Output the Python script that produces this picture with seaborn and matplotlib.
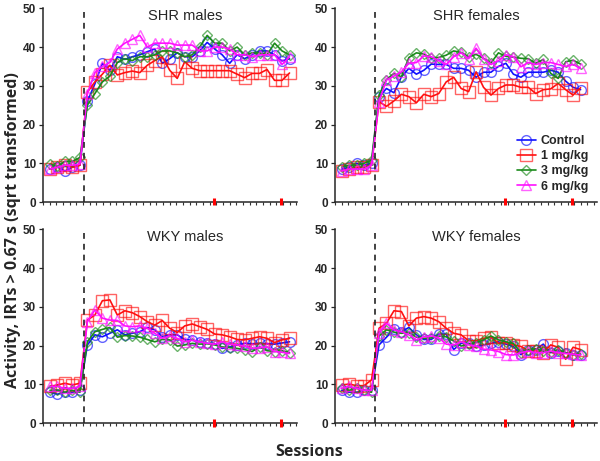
import numpy as np
import pandas as pd
import matplotlib
matplotlib.use("Agg")
import matplotlib.pyplot as plt
import seaborn as sns

sns.set_style("ticks")
plt.rcParams['font.family'] = ['Liberation Sans', 'DejaVu Sans']

sessions = list(range(1, 34))
groups = ["Control", "1 mg/kg", "3 mg/kg", "6 mg/kg"]
panel_titles = ["SHR males", "SHR females", "WKY males", "WKY females"]

shr_m_control = [8.5, 9.0, 8.0, 9.0, 9.5, 26.0, 30.5, 35.8, 34.0, 37.5, 36.8, 37.5, 38.0, 38.8, 39.5, 35.8, 37.0, 38.5, 37.5, 37.5, 39.0, 41.2, 39.5, 38.0, 35.8, 38.0, 37.0, 38.0, 39.0, 39.0, 38.0, 36.4, 37.0]
shr_m_1mg = [8.5, 9.0, 9.5, 9.0, 9.5, 28.4, 31.0, 33.0, 35.3, 32.8, 33.4, 33.8, 33.4, 35.3, 36.5, 37.5, 34.0, 31.9, 36.2, 34.5, 33.9, 33.9, 33.9, 33.9, 33.9, 33.0, 32.1, 33.2, 33.2, 34.2, 31.4, 31.4, 33.3]
shr_m_3mg = [9.8, 9.2, 10.5, 10.5, 11.5, 25.0, 28.0, 31.0, 32.5, 36.0, 37.0, 36.5, 37.5, 37.5, 38.0, 39.0, 39.0, 38.5, 37.5, 38.0, 40.0, 43.0, 41.0, 41.0, 39.0, 40.0, 38.0, 38.5, 38.5, 38.0, 41.0, 39.0, 38.0]
shr_m_6mg = [8.5, 9.0, 9.5, 9.5, 9.8, 28.0, 33.4, 35.0, 36.0, 39.5, 41.0, 42.0, 43.0, 40.0, 41.0, 41.0, 41.0, 40.5, 40.5, 40.5, 39.0, 39.0, 40.0, 40.0, 39.5, 38.0, 38.0, 37.5, 38.0, 38.0, 38.0, 35.5, 37.5]

shr_f_control = [8.5, 9.0, 10.0, 9.5, 10.0, 27.2, 29.3, 28.2, 32.3, 34.5, 33.0, 34.0, 35.6, 35.5, 35.5, 34.5, 34.5, 34.0, 32.2, 33.5, 33.5, 35.0, 35.8, 33.0, 32.2, 33.5, 33.5, 33.5, 34.0, 33.5, 31.2, 29.6, 29.0]
shr_f_1mg = [8.0, 8.5, 9.0, 9.0, 9.5, 25.9, 24.7, 26.1, 27.8, 27.2, 25.6, 27.8, 27.2, 28.0, 31.0, 32.2, 29.3, 28.5, 33.6, 29.6, 27.6, 29.3, 30.2, 30.2, 29.6, 29.6, 28.0, 29.0, 29.2, 30.6, 29.0, 27.6, 29.5]
shr_f_3mg = [9.0, 9.5, 9.5, 10.0, 10.8, 27.6, 31.6, 33.2, 32.3, 37.3, 38.5, 38.2, 37.1, 37.3, 37.9, 39.0, 38.6, 37.5, 38.1, 37.1, 35.9, 38.5, 37.6, 37.4, 37.1, 37.0, 35.8, 36.8, 33.2, 31.9, 36.2, 36.6, 35.6]
shr_f_6mg = [8.0, 8.5, 8.5, 8.5, 9.5, 25.9, 31.5, 32.5, 33.6, 35.8, 36.0, 37.7, 37.5, 36.5, 35.5, 37.5, 38.5, 37.0, 39.7, 37.0, 35.5, 36.5, 38.0, 37.5, 34.9, 36.0, 35.5, 36.0, 36.0, 35.5, 35.0, 35.5, 34.5]

wky_m_control = [8.0, 7.5, 8.0, 8.0, 8.5, 20.2, 22.8, 22.3, 23.2, 24.1, 22.8, 23.2, 23.6, 24.7, 24.1, 22.3, 22.8, 22.8, 21.6, 21.4, 21.0, 20.6, 20.5, 19.3, 19.7, 20.2, 20.6, 20.5, 20.6, 20.5, 20.4, 20.7, 21.0]
wky_m_1mg = [9.5, 9.9, 10.3, 9.9, 10.3, 26.6, 27.9, 31.6, 31.8, 27.9, 29.0, 28.5, 27.5, 26.2, 25.3, 26.5, 24.5, 23.4, 25.1, 25.6, 24.9, 24.2, 23.0, 22.8, 22.3, 21.6, 21.5, 21.9, 22.3, 21.9, 20.8, 21.5, 21.9]
wky_m_3mg = [8.5, 8.5, 8.0, 8.5, 8.0, 21.0, 23.6, 24.2, 24.7, 22.2, 22.6, 22.5, 22.2, 21.6, 21.0, 21.6, 21.5, 19.9, 20.2, 20.6, 20.4, 20.5, 20.2, 19.7, 19.5, 19.3, 19.0, 18.5, 19.7, 18.7, 18.5, 18.7, 18.2]
wky_m_6mg = [9.5, 9.5, 9.0, 9.0, 9.5, 26.2, 29.2, 27.1, 26.6, 26.5, 25.1, 24.9, 25.1, 24.5, 23.2, 21.9, 22.5, 21.9, 21.0, 21.4, 21.0, 20.6, 20.4, 21.0, 20.4, 20.2, 19.9, 19.3, 19.5, 19.7, 18.5, 18.3, 18.0]

wky_f_control = [8.5, 8.0, 8.0, 8.5, 8.5, 20.2, 22.2, 24.2, 23.6, 24.7, 22.8, 21.6, 21.6, 23.0, 23.0, 19.0, 20.6, 20.6, 19.8, 20.2, 20.6, 21.0, 20.4, 19.8, 17.7, 19.0, 19.0, 20.4, 18.2, 18.7, 18.2, 17.7, 17.7]
wky_f_1mg = [9.9, 10.1, 9.7, 9.7, 11.2, 24.5, 25.8, 29.0, 28.8, 25.1, 27.1, 27.5, 27.1, 26.2, 24.5, 23.2, 22.8, 21.3, 21.3, 21.9, 22.3, 20.6, 20.8, 20.2, 19.8, 18.7, 18.7, 18.2, 20.2, 19.6, 16.5, 19.6, 19.0]
wky_f_3mg = [9.0, 8.5, 9.0, 8.5, 8.0, 22.5, 24.1, 23.5, 23.2, 23.4, 22.2, 21.9, 22.0, 22.5, 22.3, 21.2, 19.9, 20.4, 20.8, 21.5, 22.5, 21.5, 21.0, 20.6, 18.2, 19.0, 19.2, 18.6, 18.4, 19.0, 18.2, 17.7, 17.9]
wky_f_6mg = [9.0, 9.5, 9.0, 8.5, 8.5, 23.2, 25.8, 24.1, 23.6, 22.8, 21.5, 22.3, 22.5, 22.0, 20.4, 20.2, 21.0, 20.2, 19.9, 19.1, 18.9, 18.5, 17.7, 17.6, 18.2, 18.6, 18.2, 18.2, 18.6, 18.2, 18.0, 17.8, 17.6]

panels = [
    [shr_m_control, shr_m_1mg, shr_m_3mg, shr_m_6mg],
    [shr_f_control, shr_f_1mg, shr_f_3mg, shr_f_6mg],
    [wky_m_control, wky_m_1mg, wky_m_3mg, wky_m_6mg],
    [wky_f_control, wky_f_1mg, wky_f_3mg, wky_f_6mg],
]

baseline_end = 5.5
red_ticks = [22.9, 31.9]
yticks = [0, 10, 20, 30, 40, 50]

colors = {"Control": "#1010ff", "1 mg/kg": "#ff1010", "3 mg/kg": "#1a8a1a", "6 mg/kg": "#ff10ff"}
markers = {"Control": "o", "1 mg/kg": "s", "3 mg/kg": "D", "6 mg/kg": "^"}
msizes = {"Control": 7, "1 mg/kg": 8.5, "3 mg/kg": 5, "6 mg/kg": 7}

fig = plt.figure(figsize=(6.0, 4.61), dpi=100)
ax_pos = [
    [0.0717, 0.5618, 0.4233, 0.4202],
    [0.5583, 0.5618, 0.4367, 0.4202],
    [0.0717, 0.0818, 0.4233, 0.4208],
    [0.5583, 0.0818, 0.4367, 0.4208],
]
xlims = [(0.07, 34.0), (0.1, 35.2), (0.07, 34.0), (0.1, 35.2)]

axes = []
for p, title in enumerate(panel_titles):
    ax = fig.add_axes(ax_pos[p])
    axes.append(ax)
    rows = []
    for g, vals in zip(groups, panels[p]):
        for s, v in zip(sessions, vals):
            rows.append({"session": s, "value": v, "group": g})
    df = pd.DataFrame(rows)
    for g in groups:
        sub = df[df["group"] == g]
        c = matplotlib.colors.to_rgba(colors[g])
        sns.lineplot(data=sub, x="session", y="value", ax=ax, color=colors[g],
                     lw=1.2, marker=markers[g], markersize=msizes[g],
                     markerfacecolor="none", markeredgecolor=(c[0], c[1], c[2], 0.65),
                     markeredgewidth=1.0, label=g, legend=False)
    ax.axvline(baseline_end, ymin=0, ymax=1, color="#222222", lw=1.2, ls=(0, (3.5, 3)))
    ax.set_xlim(*xlims[p])
    ax.set_ylim(0, 50)
    ax.set_yticks(yticks)
    ax.set_yticklabels([str(t) for t in yticks], fontweight="bold", fontsize=8.5)
    x0, x1 = xlims[p]
    ax.set_xticks(np.arange(x0, x1, 0.89))
    ax.set_xticklabels([])
    ax.tick_params(axis="x", length=2.2, width=0.8, direction="out", color="#333333")
    ax.tick_params(axis="y", length=3, width=0.9, direction="out", pad=2)
    for rt in red_ticks:
        ax.plot([rt, rt], [-0.9, 1.1], color="#ff0000", lw=2.2, clip_on=False, solid_capstyle="butt", zorder=5)
    sns.despine(ax=ax)
    ax.spines["left"].set_linewidth(1.1)
    ax.spines["bottom"].set_linewidth(1.1)
    ax.set_xlabel("")
    ax.set_ylabel("")
    ax.text(19.0, 48.0, title, ha="center", va="center", fontsize=10.5)

leg = axes[1].legend(loc="upper left", bbox_to_anchor=(0.695, 0.345), frameon=False,
                     prop={"weight": "bold", "size": 9}, handlelength=1.5,
                     handletextpad=0.4, labelspacing=0.25, borderpad=0, borderaxespad=0)

fig.text(0.022, 0.50, "Activity, IRTs > 0.67 s (sqrt transformed)", rotation=90,
         ha="center", va="center", fontsize=11.5, fontweight="bold", family=["Open Sans", "DejaVu Sans"])
fig.text(0.515, 0.02, "Sessions", ha="center", va="center", fontsize=11.5,
         fontweight="bold", family=["Open Sans", "DejaVu Sans"])

fig.savefig("out.png", dpi=100)
